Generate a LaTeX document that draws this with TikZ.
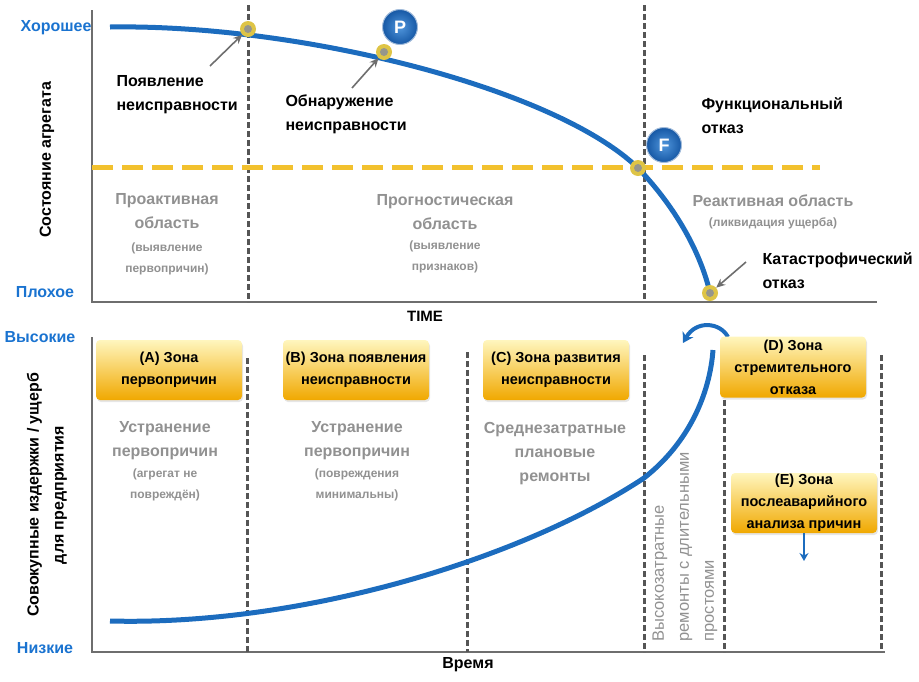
\documentclass[tikz,border=0pt]{standalone}
\usepackage{fontspec}
\setmainfont{Liberation Sans}
\usepackage{tikz}
\usetikzlibrary{arrows.meta}
\usetikzlibrary{shadows}

\definecolor{curveblue}{RGB}{28,108,190}
\definecolor{labblue}{RGB}{26,115,208}
\definecolor{ballin}{RGB}{80,150,220}
\definecolor{ballout}{RGB}{22,88,165}
\definecolor{axisgray}{RGB}{110,110,110}
\definecolor{dashgray}{RGB}{85,85,85}
\definecolor{txtgray}{RGB}{145,145,145}
\definecolor{dashyel}{RGB}{242,193,46}
\definecolor{dotyel}{RGB}{222,196,70}
\definecolor{dotgray}{RGB}{150,150,140}
\definecolor{boxtop}{RGB}{255,246,190}
\definecolor{boxmid}{RGB}{252,210,70}
\definecolor{boxbot}{RGB}{240,168,0}

\begin{document}
\begin{tikzpicture}[x=1pt,y=-1pt,
    axis/.style={draw=axisgray, line width=2pt},
    vdash/.style={draw=dashgray, line width=3pt, dash pattern=on 6pt off 3pt},
    curve/.style={draw=curveblue, line width=5pt},
    dot/.style={circle, fill=dotyel, minimum size=16pt, inner sep=0pt,
        path picture={\fill[dotgray] (path picture bounding box.center) circle (4pt);}},
    ball/.style={circle, inner color=ballin, outer color=ballout, draw=ballout!40!white, line width=1pt,
        minimum size=35pt, inner sep=0pt, text=white, font=\bfseries\fontsize{18}{18}\selectfont},
    gar/.style={draw=axisgray, line width=1.6pt, -{Stealth[length=9pt,width=8pt]}},
    lab/.style={align=left, anchor=west, font=\bfseries\fontsize{16}{24}\selectfont},
    ylab/.style={text=labblue, font=\bfseries\fontsize{16}{16}\selectfont},
    big/.style={text=txtgray, align=center, font=\bfseries\fontsize{16}{24}\selectfont},
    small/.style={text=txtgray, align=center, font=\bfseries\fontsize{12}{21}\selectfont},
    zonebox/.style={rounded corners=4pt, top color=boxtop, middle color=boxmid, bottom color=boxbot,
        drop shadow={opacity=0.2, shadow xshift=1pt, shadow yshift=-2pt},
        minimum width=146pt, minimum height=60pt, inner sep=0pt, align=center,
        font=\bfseries\fontsize{14.5}{22}\selectfont}]
\useasboundingbox (0,0) rectangle (919,681);

% upper chart: condition of the unit
\draw[axis] (92,10) -- (92,302) -- (877,302);
\draw[vdash] (248,5) -- (248,302);
\draw[vdash] (644,5) -- (644,300);
\draw[draw=dashyel, line width=5pt, dash pattern=on 21pt off 9pt] (92,167) -- (820,167);
\draw[curve] (110,27) .. controls (300,24) and (555,88) .. (638,168) .. controls (680,212) and (702,258) .. (710,293);

\node[dot] (d1) at (248,29) {};
\node[dot] (d2) at (384,52) {};
\node[dot] (d3) at (638,168) {};
\node[dot] (d4) at (710,293) {};
\node[ball] (P) at (400,27) {P};
\node[ball] (F) at (664,145) {F};

\coordinate (a1) at (210,66);
\coordinate (a2) at (352,88);
\coordinate (a4) at (746,262);
\draw[gar] (a1) -- (d1);
\draw[gar] (a2) -- (d2);
\draw[gar] (a4) -- (d4);

\node[ylab] (good) at (56,28) {Хорошее};
\node[ylab] (bad) at (45,292) {Плохое};
\node[rotate=90, font=\bfseries\fontsize{16}{16}\selectfont] (state) at (47,160) {Состояние агрегата};

\node[lab] (onset) at (113,95) {Появление\\неисправности};
\node[lab] (detect) at (282,114) {Обнаружение\\неисправности};
\node[lab] (func) at (698,116) {Функциональный\\отказ};
\node[lab] (cat) at (759,271) {Катастрофический\\отказ};

\node[big] (pro) at (167,211) {Проактивная\\область};
\node[small] (pro2) at (167,259) {(выявление\\первопричин)};
\node[big] (prog) at (445,212) {Прогностическая\\область};
\node[small] (prog2) at (445,257) {(выявление\\признаков)};
\node[big] (react) at (773,201) {Реактивная область};
\node[small] (react2) at (773,223) {(ликвидация ущерба)};
\node[font=\bfseries\fontsize{15}{15}\selectfont] (time) at (425,316) {TIME};

% lower chart: total costs
\draw[axis] (92,337) -- (92,652) -- (885,652);
\draw[vdash] (247,358) -- (247,652);
\draw[vdash] (467,352) -- (467,652);
\draw[vdash] (644,355) -- (644,652);
\draw[vdash] (724,400) -- (724,652);
\draw[vdash] (881,355) -- (881,652);
\draw[curve] (110,621) .. controls (300,626) and (520,560) .. (644,478) .. controls (690,442) and (710,392) .. (713,350);

\coordinate (c1) at (728,337);
\coordinate (c2) at (683,343);
\draw[draw=curveblue, line width=4pt, -{Stealth[length=10pt,width=12pt,inset=3pt]}] (c1) .. controls (720,322) and (696,320) .. (c2);

\node[zonebox] (A) at (169,370) {(A) Зона\\первопричин};
\node[zonebox] (B) at (356,370) {(B) Зона появления\\неисправности};
\node[zonebox] (C) at (556,370) {(C) Зона развития\\неисправности};
\node[zonebox, minimum height=61pt] (D) at (793,367) {(D) Зона\\стремительного\\отказа};
\node[zonebox] (E) at (804,503) {(E) Зона\\послеаварийного\\анализа причин};

\coordinate (e1) at (804,561);
\draw[draw=curveblue, line width=2.5pt, -{Stealth[length=8pt,width=9pt]}] (E.south) -- (e1);

\node[ylab] (high) at (40,337) {Высокие};
\node[ylab] (low) at (45,648) {Низкие};
\node[rotate=90, align=center, font=\bfseries\fontsize{16}{25}\selectfont] (cost) at (47,495) {Совокупные издержки / ущерб\\для предприятия};

\node[big] (fix1) at (165,441) {Устранение\\первопричин};
\node[small] (fix1b) at (165,485) {(агрегат не\\повреждён)};
\node[big] (fix2) at (357,441) {Устранение\\первопричин};
\node[small] (fix2b) at (357,485) {(повреждения\\минимальны)};
\node[big] (mid) at (555,454) {Среднезатратные\\плановые\\ремонты};
\node[big, rotate=90, anchor=west, align=left, font=\fontsize{16.5}{25}\selectfont] (high2) at (685,645) {Высокозатратные\\ремонты с длительными\\простоями};

\node[font=\bfseries\fontsize{16}{16}\selectfont] (tm) at (468,665) {Время};
\end{tikzpicture}
\end{document}
